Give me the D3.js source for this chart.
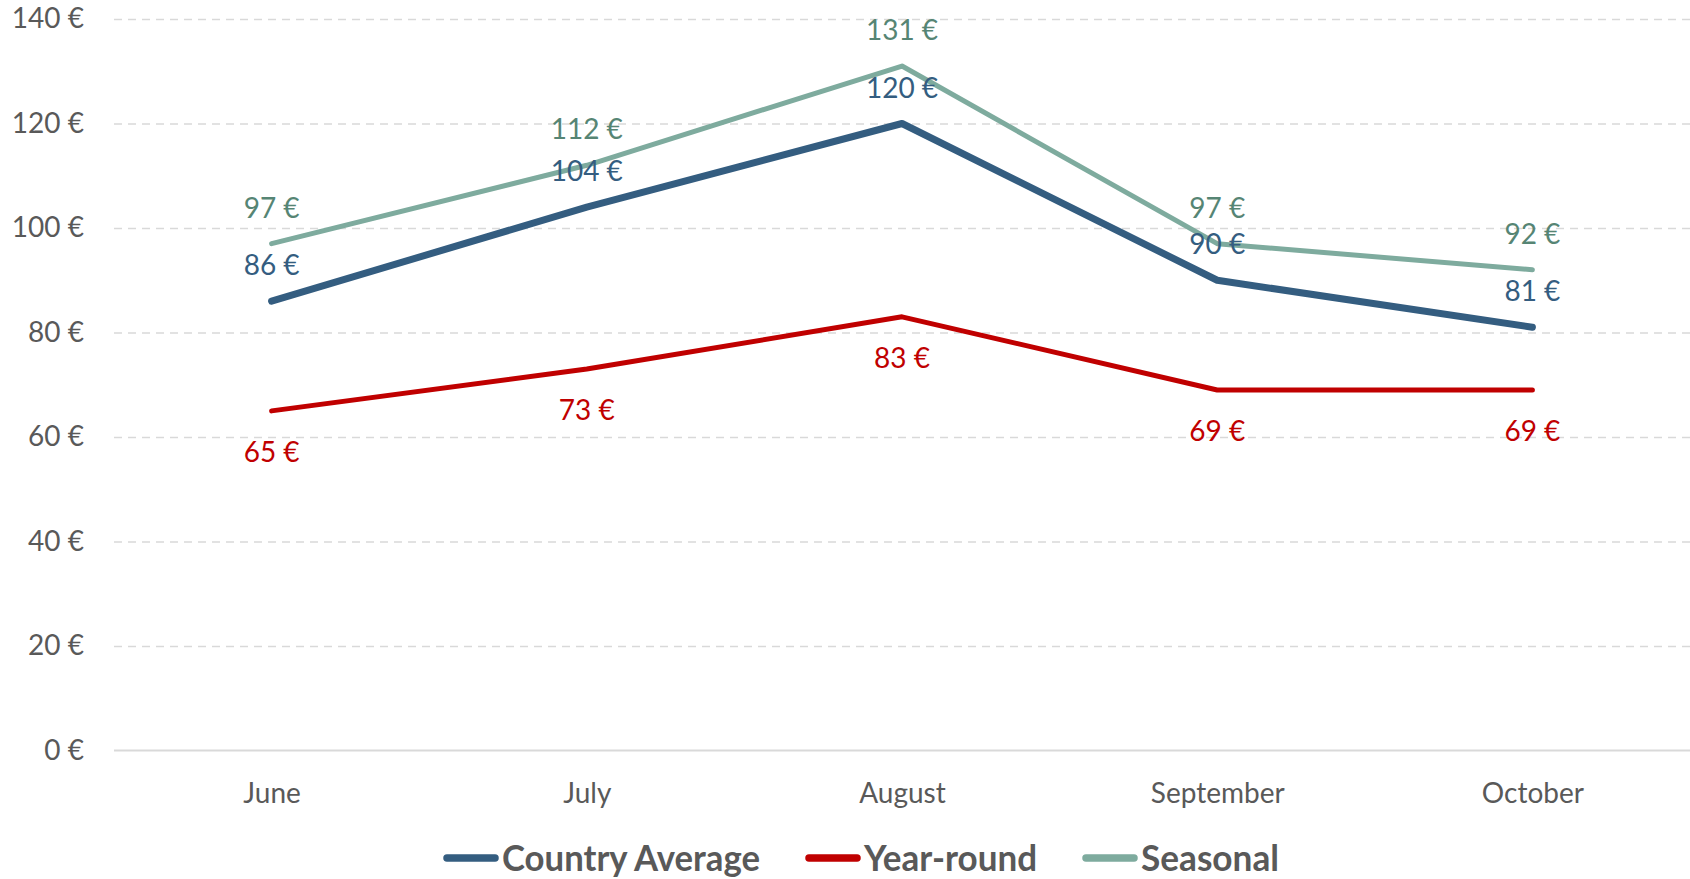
<!DOCTYPE html>
<html>
<head>
<meta charset="utf-8">
<script src="https://cdn.jsdelivr.net/npm/d3@7"></script>
<style>
    body {
        margin: 0;
        background: #fff;
        font-family: Lato, "Open Sans", sans-serif;
    }
    .axis text {
        font-size: 28px;
        fill: #595959;
    }
    .grid line {
        stroke: #d9d9d9;
        stroke-width: 1.5px;
        stroke-dasharray: 8,6;
    }
    .label {
        font-size: 28px;
    }
    .legend text {
        font-size: 36px;
        font-weight: bold;
        fill: #595959;
    }
</style>
</head>
<body>
<script>

var width = 1690,
    height = 879;

// chart data
var months = ["June", "July", "August", "September", "October"];
var yTicks = [0, 20, 40, 60, 80, 100, 120, 140];
var seriesNames = ["Country Average", "Year-round", "Seasonal"];
var countryAverage = [86, 104, 120, 90, 81];
var yearRound = [65, 73, 83, 69, 69];
var seasonal = [97, 112, 131, 97, 92];

var series = [
    {name: seriesNames[0], values: countryAverage, color: "#345d80", labelColor: "#345d80", width: 7, above: true},
    {name: seriesNames[1], values: yearRound, color: "#c00000", labelColor: "#c00000", width: 5, above: false},
    {name: seriesNames[2], values: seasonal, color: "#7eab9e", labelColor: "#568574", width: 5, above: true}
];

var svg = d3.select("body").append("svg")
    .attr("width", width)
    .attr("height", height);

var plotLeft = 114, plotRight = 1690, plotTop = 19, plotBottom = 750.5;

var x = d3.scalePoint()
    .domain(months)
    .range([plotLeft, plotRight])
    .padding(0.5);

var y = d3.scaleLinear()
    .domain([0, 140])
    .range([plotBottom, plotTop]);

// dashed gridlines
svg.append("g")
    .attr("class", "grid")
    .attr("transform", "translate(" + plotLeft + ",0)")
    .call(d3.axisLeft(y).tickValues(yTicks.slice(1)).tickSize(-(plotRight - plotLeft)).tickFormat(""))
    .call(function(g) { g.select(".domain").remove(); });

// baseline
svg.append("line")
    .attr("x1", plotLeft)
    .attr("x2", plotRight)
    .attr("y1", y(0))
    .attr("y2", y(0))
    .style("stroke", "#d9d9d9")
    .style("stroke-width", 2);

// y axis labels
svg.append("g")
    .attr("class", "axis")
    .attr("transform", "translate(" + plotLeft + ",0)")
    .call(d3.axisLeft(y).tickValues(yTicks).tickSize(0).tickPadding(30).tickFormat(function(d) { return d + " €"; }))
    .call(function(g) { g.select(".domain").remove(); });

// x axis labels
svg.append("g")
    .attr("class", "axis")
    .attr("transform", "translate(0," + plotBottom + ")")
    .call(d3.axisBottom(x).tickSize(0).tickPadding(32.5))
    .call(function(g) { g.select(".domain").remove(); });

svg.selectAll(".axis").attr("font-family", null).attr("font-size", null);

var line = d3.line()
    .x(function(d, i) { return x(months[i]); })
    .y(function(d) { return y(d); });

// lines
svg.selectAll("path.series")
    .data(series)
    .enter().append("path")
    .attr("class", "series")
    .attr("d", function(d) { return line(d.values); })
    .style("fill", "none")
    .style("stroke", function(d) { return d.color; })
    .style("stroke-width", function(d) { return d.width; })
    .style("stroke-linecap", "round")
    .style("stroke-linejoin", "round");

// data labels
series.forEach(function(s) {
    svg.append("g").selectAll("text")
        .data(s.values)
        .enter().append("text")
        .attr("class", "label")
        .attr("x", function(d, i) { return x(months[i]); })
        .attr("y", function(d) { return s.above ? y(d) - 26 : y(d) + 51; })
        .attr("text-anchor", "middle")
        .style("fill", s.labelColor)
        .text(function(d) { return d + " €"; });
});

// legend
var legendWidths = [258, 173, 138];
var legend = svg.append("g")
    .attr("class", "legend");

var lx = 443, ly = 858;
series.forEach(function(s, i) {
    legend.append("line")
        .attr("x1", lx + 4)
        .attr("x2", lx + 52)
        .attr("y1", ly)
        .attr("y2", ly)
        .style("stroke", s.color)
        .style("stroke-width", 7.5)
        .style("stroke-linecap", "round");
    legend.append("text")
        .attr("x", lx + 59)
        .attr("y", ly + 13)
        .attr("textLength", legendWidths[i])
        .attr("lengthAdjust", "spacingAndGlyphs")
        .text(s.name);
    lx += 59 + legendWidths[i] + 45;
});

</script>
</body>
</html>
